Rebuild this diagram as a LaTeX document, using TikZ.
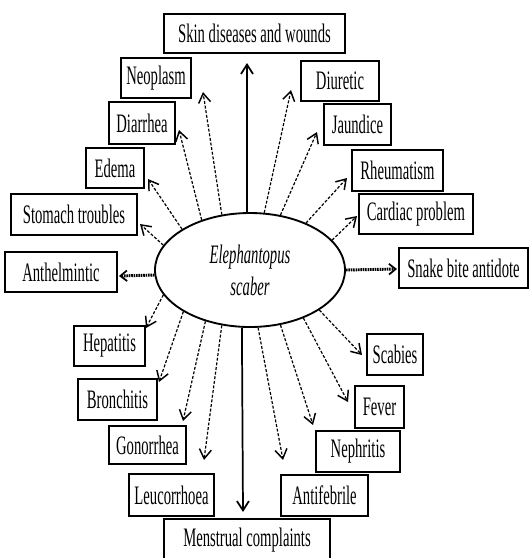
\documentclass[tikz,border=0pt]{standalone}
\usepackage{fontspec}
\setmainfont{Liberation Serif}[FakeStretch=0.55]
\usetikzlibrary{arrows.meta,shapes.geometric}
\newcommand\bx[6]{\node[bx, minimum width={(#4-#2)*0.75pt}, minimum height={(#5-#3)*0.75pt}] (#1) at ({(#2+#4)/2},{(#3+#5)/2}) {#6};}
\tikzset{
  bx/.style={draw, line width=1.5pt, inner sep=0pt, font=\fontsize{20}{24}\selectfont},
  arr/.style={line width=0.9pt, dash pattern=on 2.2pt off 1.3pt, -{Straight Barb[length=7pt,width=9pt,line width=1.1pt]}},
  solidarr/.style={line width=1.3pt, -{Straight Barb[length=7pt,width=9pt]}},
  thickarr/.style={line width=2.2pt, dash pattern=on 1.2pt off 0.6pt, -{Straight Barb[length=5pt,width=8pt,line width=1.3pt]}},
}
\begin{document}
\begin{tikzpicture}[x=0.75pt,y=-0.75pt]
\useasboundingbox (0,0) rectangle (529,558);
% central ellipse
\node[ellipse, draw, line width=1.4pt, inner sep=0pt, minimum width=142.5pt, minimum height=85.5pt, align=center, font=\fontsize{20}{24}\selectfont\itshape] (e) at (250,270) {Elephantopus\\scaber};
% boxes
\bx{skin}{164}{14}{345}{53}{Skin diseases and wounds}
\bx{neo}{121}{58}{191}{98}{Neoplasm}
\bx{diar}{109}{102}{175}{144}{Diarrhea}
\bx{edema}{86}{148}{144}{188}{Edema}
\bx{stom}{11}{194}{137}{235}{Stomach troubles}
\bx{anth}{5}{252}{117}{292}{Anthelmintic}
\bx{hep}{74}{326}{145}{366}{Hepatitis}
\bx{bron}{78}{379}{157}{420}{Bronchitis}
\bx{gono}{109}{426}{186}{464}{Gonorrhea}
\bx{leuc}{129}{474}{214}{516}{Leucorrhoea}
\bx{mens}{164}{519}{330}{561}{Menstrual complaints}
\bx{diur}{301}{61}{379}{101}{Diuretic}
\bx{jaun}{324}{104}{391}{145}{Jaundice}
\bx{rheu}{352}{150}{443}{191}{Rheumatism}
\bx{card}{359}{194}{473}{234}{Cardiac problem}
\bx{snake}{399}{248}{528}{288}{Snake bite antidote}
\bx{scab}{367}{334}{423}{375}{Scabies}
\bx{fever}{355}{386}{404}{428}{Fever}
\bx{neph}{316}{431}{400}{472}{Nephritis}
\bx{antif}{281}{475}{368}{516}{Antifebrile}
% arrow tips
\coordinate (tskin) at (247,63);
\coordinate (tneo) at (203,92);
\coordinate (tdiar) at (179,130);
\coordinate (tedema) at (148,179);
\coordinate (tstom) at (140,224);
\coordinate (tanth) at (119,276);
\coordinate (thep) at (146,328);
\coordinate (tbron) at (159,382);
\coordinate (tgono) at (183,421);
\coordinate (tleuc) at (204,460);
\coordinate (tmens) at (243,512);
\coordinate (tantif) at (283,460);
\coordinate (tneph) at (313,425);
\coordinate (tfever) at (348,402);
\coordinate (tscab) at (362,355);
\coordinate (tsnake) at (397,269);
\coordinate (tcard) at (357,216);
\coordinate (trheu) at (347,178);
\coordinate (tjaun) at (317,132);
\coordinate (tdiur) at (291,90);
% connectors
\draw[solidarr] (e.93) -- (tskin);
\draw[arr] (e.117) -- (tneo);
\draw[arr] (e.134.4) -- (tdiar);
\draw[arr] (e.149.5) -- (tedema);
\draw[arr] (e.164.6) -- (tstom);
\draw[thickarr] (e.183.6) -- (tanth);
\draw[arr] (e.196.2) -- (thep);
\draw[arr] (e.212.5) -- (tbron);
\draw[arr] (e.229.9) -- (tgono);
\draw[arr] (e.243.9) -- (tleuc);
\draw[solidarr] (e.262) -- (tmens);
\draw[arr] (e.278) -- (tantif);
\draw[arr] (e.299.1) -- (tneph);
\draw[arr] (e.318.4) -- (tfever);
\draw[arr] (e.330.9) -- (tscab);
\draw[thickarr] (e.0.6) -- (tsnake);
\draw[arr] (e.20.1) -- (tcard);
\draw[arr] (e.40) -- (trheu);
\draw[arr] (e.61.8) -- (tjaun);
\draw[arr] (e.76.9) -- (tdiur);
\end{tikzpicture}
\end{document}
